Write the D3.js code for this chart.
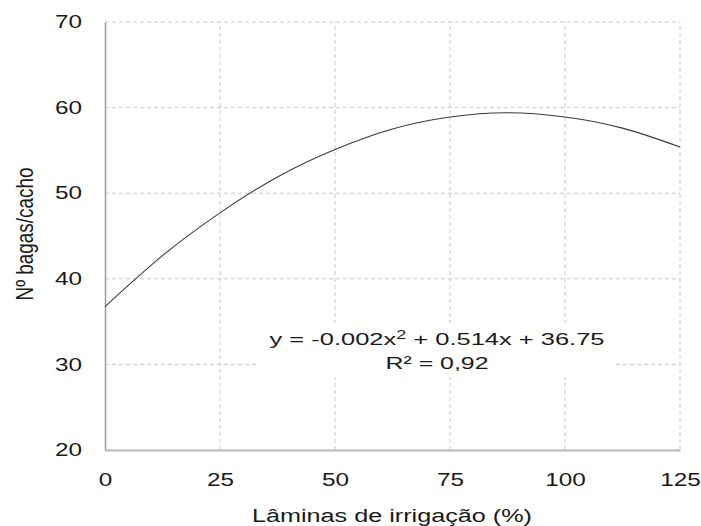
<!DOCTYPE html>
<html>
<head>
<meta charset="utf-8">
<script src="https://cdn.jsdelivr.net/npm/d3@7"></script>
<style>
  body { margin: 0; background: #fff; }
  text { font-family: "Liberation Sans", Arial, sans-serif; fill: #1a1a1a; }
</style>
</head>
<body>
<div id="chart"></div>
<script>
// values
var laminas = [0, 12.5, 25, 37.5, 50, 62.5, 75, 87.5, 100, 112.5, 125];
var bagas = [36.75, 42.7, 47.7, 51.9, 55.1, 57.5, 58.9, 59.4, 58.9, 57.6, 55.4];
var xTicks = [0, 25, 50, 75, 100, 125];
var yTicks = [20, 30, 40, 50, 60, 70];
var eqLine1 = "y = -0.002x", eqLine2 = " + 0.514x + 36.75";
var r2Label = "R² = 0,92";

var svg = d3.select("#chart").append("svg")
  .attr("width", 701)
  .attr("height", 526);

var x = d3.scaleLinear().domain([0, 125]).range([105, 680]);
var y = d3.scaleLinear().domain([20, 70]).range([450, 22]);

// the source picture is stretched sideways, so widen the text
function stretch(sel, k) {
  sel.each(function() {
    var w = this.getComputedTextLength();
    d3.select(this).attr("textLength", w * k).attr("lengthAdjust", "spacingAndGlyphs");
  });
}

// grid
svg.append("g").selectAll("line").data(yTicks.slice(1)).join("line")
  .attr("x1", x(0)).attr("x2", x(125))
  .attr("y1", d => y(d)).attr("y2", d => y(d))
  .attr("stroke", "#c8c8c8").attr("stroke-dasharray", "4,3");
svg.append("g").selectAll("line").data(xTicks.slice(1)).join("line")
  .attr("x1", d => x(d)).attr("x2", d => x(d))
  .attr("y1", y(20)).attr("y2", y(70))
  .attr("stroke", "#c8c8c8").attr("stroke-dasharray", "4,3");

// axes
var xAxis = svg.append("g").attr("transform", "translate(0," + y(20) + ")")
  .call(d3.axisBottom(x).tickValues(xTicks).tickSize(0).tickPadding(23));
xAxis.select(".domain").attr("stroke", "#b8b8b8").attr("stroke-width", 2);
xAxis.selectAll("text").style("font-size", "18px").attr("fill", "#1a1a1a").call(stretch, 1.35);

var yAxis = svg.append("g").attr("transform", "translate(" + x(0) + ",0)")
  .call(d3.axisLeft(y).tickValues(yTicks).tickSize(0).tickPadding(23));
yAxis.select(".domain").attr("stroke", "#9a9a9a").attr("stroke-width", 1.5);
yAxis.selectAll("text").style("font-size", "18px").attr("fill", "#1a1a1a").call(stretch, 1.35);

// curve
var line = d3.line().x((d, i) => x(laminas[i])).y(d => y(d)).curve(d3.curveNatural);
svg.append("path").datum(bagas)
  .attr("d", line)
  .attr("fill", "none").attr("stroke", "#3a3a3a").attr("stroke-width", 1.1);

// equation label with white background
svg.append("rect").attr("x", 258).attr("y", 323).attr("width", 355).attr("height", 54)
  .attr("fill", "#fff");
var eq = svg.append("text").attr("x", 437).attr("y", 345)
  .attr("text-anchor", "middle").style("font-size", "17px");
eq.append("tspan").text(eqLine1);
eq.append("tspan").text("2").attr("dy", -6).style("font-size", "12px");
eq.append("tspan").text(eqLine2).attr("dy", 6);
eq.attr("textLength", 335).attr("lengthAdjust", "spacingAndGlyphs");
svg.append("text").attr("x", 437).attr("y", 369)
  .attr("text-anchor", "middle").style("font-size", "17px").text(r2Label)
  .attr("textLength", 103).attr("lengthAdjust", "spacingAndGlyphs");

// axis titles
svg.append("text").attr("x", 392).attr("y", 522)
  .attr("text-anchor", "middle").style("font-size", "18px")
  .text("Lâminas de irrigação (%)")
  .attr("textLength", 280).attr("lengthAdjust", "spacingAndGlyphs");
svg.append("text")
  .attr("transform", "translate(33,234) scale(1.35,1) rotate(-90)")
  .attr("text-anchor", "middle").style("font-size", "18px")
  .text("Nº bagas/cacho")
  .attr("textLength", 133).attr("lengthAdjust", "spacingAndGlyphs");
</script>
</body>
</html>
